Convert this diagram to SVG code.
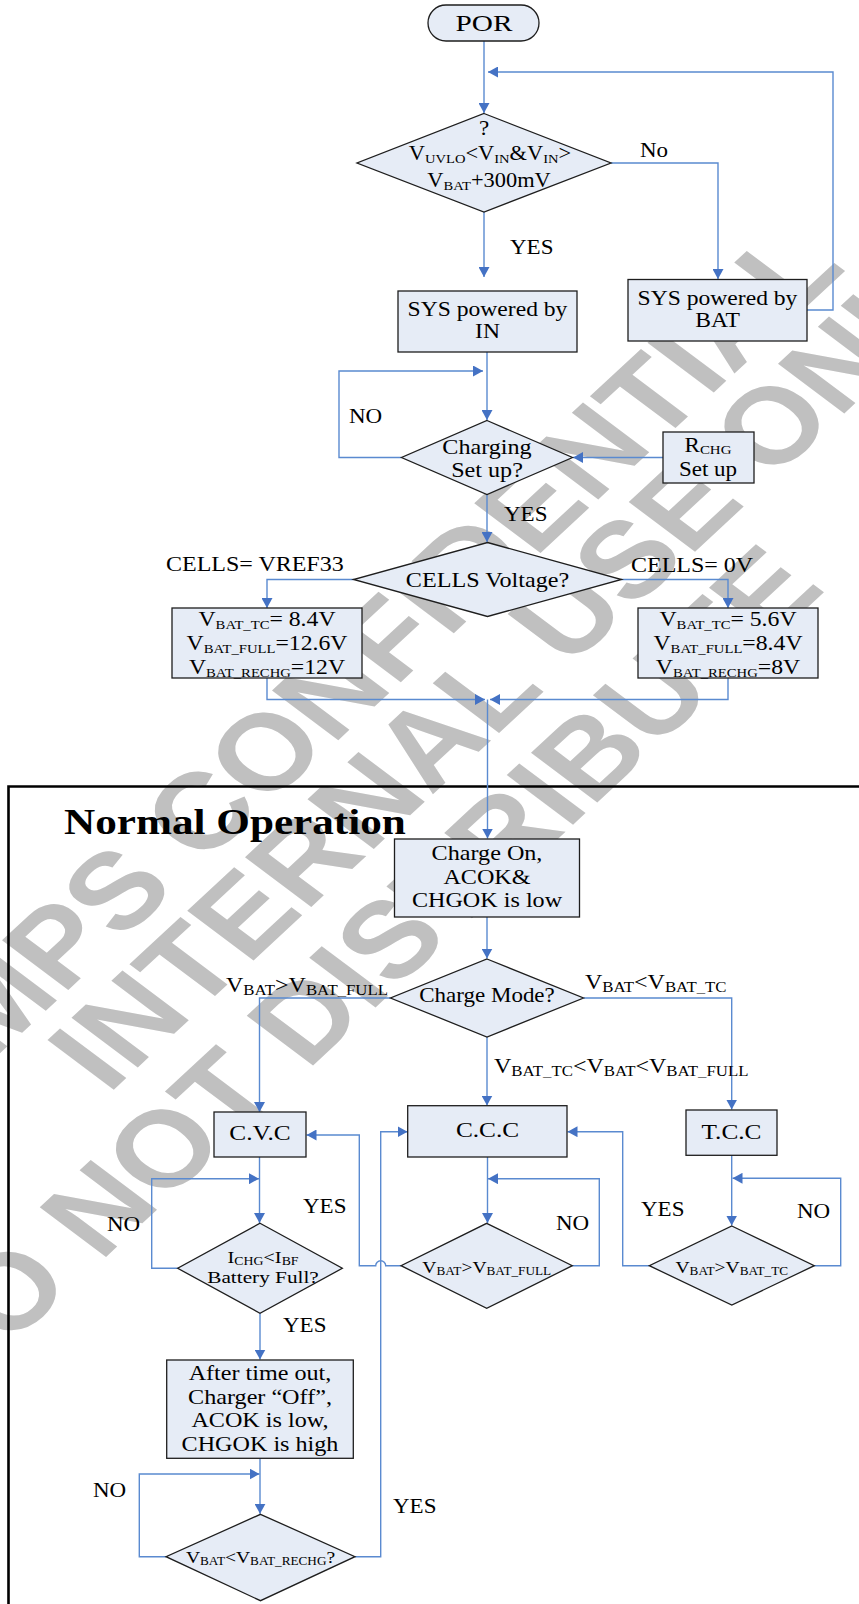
<svg xmlns="http://www.w3.org/2000/svg" width="859" height="1604" viewBox="0 0 859 1604">
<style>
text{font-family:"Liberation Serif","Times New Roman",serif;font-size:20px;fill:#000;text-anchor:middle}
.s{text-anchor:start}
.b{font-size:13px}
.sm{font-size:17px}
.sm .b{font-size:11.5px}
.wm{font-family:"Liberation Sans",Arial,sans-serif;font-weight:bold;font-size:108px;fill:#C0C0C0;text-anchor:start}
.n{fill:#E6ECF6;stroke:#1E1E1E;stroke-width:1.3}
.c{fill:none;stroke:#5A8AD0;stroke-width:1.4;marker-end:url(#a)}
.f{fill:none;stroke:#000;stroke-width:2.6}
</style>
<defs>
<marker id="a" markerWidth="10" markerHeight="11" refX="10" refY="5.5" orient="auto" markerUnits="userSpaceOnUse"><path d="M0,0 L10,5.5 L0,11 z" fill="#4472C4"/></marker>
</defs>
<rect width="859" height="1604" fill="#fff"/>
<g id="watermark">
<text class="wm" transform="scale(1.2 1) translate(-8 1062) rotate(-48)">MPS CONFIDENTIAL</text>
<text class="wm" transform="scale(1.2 1) translate(90 1095) rotate(-48)">INTERNAL USE ONLY</text>
<text class="wm" transform="scale(1.2 1) translate(-45 1405) rotate(-48)">DO NOT DISTRIBUTE</text>
</g>
<path id="frame" class="f" d="M8.5,1610 V786.5 H870"/>
<g id="connectors">
<path class="c" d="M484,41 V113"/>
<path class="c" d="M807,310 H833 V72 H488"/>
<path class="c" d="M611,163 H718 V279"/>
<path class="c" d="M484,212 V277"/>
<path class="c" d="M487,352 V420"/>
<path class="c" d="M401.5,457.5 H339 V371 H483"/>
<path class="c" d="M663,457.5 H573"/>
<path class="c" d="M487,494.5 V542"/>
<path class="c" d="M353.5,579.5 H267 V608"/>
<path class="c" d="M621.5,579.5 H728 V608"/>
<path class="c" d="M267,678 V699.5 H485"/>
<path class="c" d="M728,678 V699.5 H490"/>
<path class="c" d="M487.5,699.5 V838.5"/>
<path class="c" d="M487,917 V958.5"/>
<path class="c" d="M390.5,998 H259.5 V1112"/>
<path class="c" d="M487,1037 V1105.5"/>
<path class="c" d="M583.5,998 H731.7 V1109.5"/>
<path class="c" d="M259.5,1157 V1223"/>
<path class="c" d="M177.7,1268.3 H151.7 V1178.7 H259"/>
<path class="c" d="M260,1313.3 V1359.5"/>
<path class="c" d="M260,1458.3 V1513.8"/>
<path class="c" d="M166,1556.7 H139.3 V1474 H259.5"/>
<path class="c" d="M355,1556.7 H380.7 V1131.7 H407.5"/>
<path class="c" d="M487.5,1157 V1223"/>
<path class="c" d="M572.3,1265.7 H599.3 V1178.7 H488"/>
<path class="c" d="M401,1265.7 H385.7 A5,5 0 0 0 375.7,1265.7 H359.3 V1135 H306.5"/>
<path class="c" d="M731.7,1155 V1225.5"/>
<path class="c" d="M814.3,1265.7 H840.7 V1178.3 H732.5"/>
<path class="c" d="M649.3,1265.7 H622.7 V1131.7 H567.5"/>
</g>
<g id="por"><rect class="n" x="428" y="5" width="111" height="36" rx="18"/><text transform="translate(484 31) scale(1.22 1)" style="font-size:24px">POR</text></g>
<g id="d-vin">
<polygon class="n" points="484,113.5 611,163 484,212 357,163"/>
<text transform="translate(484 135) scale(1.15 1)">?</text>
<text transform="translate(490 160) scale(1.12 1)">V<tspan class="b" dy="3">UVLO</tspan><tspan dy="-3">&lt;V</tspan><tspan class="b" dy="3">IN</tspan><tspan dy="-3">&amp;V</tspan><tspan class="b" dy="3">IN</tspan><tspan dy="-3">&gt;</tspan></text>
<text transform="translate(489 187) scale(1.12 1)">V<tspan class="b" dy="3">BAT</tspan><tspan dy="-3">+300mV</tspan></text>
</g>
<g id="sys-bat"><rect class="n" x="628" y="279.5" width="179" height="61.5"/>
<text transform="translate(717.5 305) scale(1.18 1)">SYS powered by</text>
<text transform="translate(717.5 327) scale(1.18 1)">BAT</text></g>
<g id="sys-in"><rect class="n" x="398" y="291" width="179" height="61"/>
<text transform="translate(487.5 316) scale(1.18 1)">SYS powered by</text>
<text transform="translate(487.5 338) scale(1.18 1)">IN</text></g>
<g id="d-chg">
<polygon class="n" points="487,420.5 572.5,457.5 487,494.5 401.5,457.5"/>
<text transform="translate(487 454) scale(1.15 1)" style="font-size:21px">Charging</text>
<text transform="translate(487 477) scale(1.15 1)" style="font-size:21px">Set up?</text>
</g>
<g id="rchg"><rect class="n" x="663" y="432" width="91" height="51"/>
<text transform="translate(708 452) scale(1.15 1)">R<tspan class="b" dy="2">CHG</tspan></text>
<text transform="translate(708 476) scale(1.15 1)">Set up</text></g>
<g id="d-cells">
<polygon class="n" points="487.5,542.5 621.5,579.5 487.5,616.5 353.5,579.5"/>
<text transform="translate(487.5 587) scale(1.15 1)" style="font-size:21px">CELLS Voltage?</text>
</g>
<g id="cells-3"><rect class="n" x="172" y="608" width="190" height="70"/>
<text transform="translate(267 626) scale(1.13 1)" style="font-size:21px">V<tspan class="b" dy="3">BAT_TC</tspan><tspan dy="-3">= 8.4V</tspan></text>
<text transform="translate(267 650) scale(1.13 1)" style="font-size:21px">V<tspan class="b" dy="3">BAT_FULL</tspan><tspan dy="-3">=12.6V</tspan></text>
<text transform="translate(267 674) scale(1.13 1)" style="font-size:21px">V<tspan class="b" dy="3">BAT_RECHG</tspan><tspan dy="-3">=12V</tspan></text></g>
<g id="cells-2"><rect class="n" x="638" y="608" width="180" height="70"/>
<text transform="translate(728 626) scale(1.13 1)" style="font-size:21px">V<tspan class="b" dy="3">BAT_TC</tspan><tspan dy="-3">= 5.6V</tspan></text>
<text transform="translate(728 650) scale(1.13 1)" style="font-size:21px">V<tspan class="b" dy="3">BAT_FULL</tspan><tspan dy="-3">=8.4V</tspan></text>
<text transform="translate(728 674) scale(1.13 1)" style="font-size:21px">V<tspan class="b" dy="3">BAT_RECHG</tspan><tspan dy="-3">=8V</tspan></text></g>
<g id="charge-on"><rect class="n" x="394.5" y="839" width="185" height="78"/>
<text transform="translate(487 860) scale(1.15 1)" style="font-size:21px">Charge On,</text>
<text transform="translate(487 884) scale(1.15 1)" style="font-size:21px">ACOK&amp;</text>
<text transform="translate(487 907) scale(1.15 1)" style="font-size:21px">CHGOK is low</text></g>
<g id="d-mode">
<polygon class="n" points="487,959 583.5,998 487,1037 390.5,998"/>
<text transform="translate(487 1002) scale(1.15 1)">Charge Mode?</text>
</g>
<g id="cvc"><rect class="n" x="214" y="1112" width="92" height="45"/>
<text transform="translate(260 1140) scale(1.15 1)" style="font-size:22px">C.V.C</text></g>
<g id="ccc"><rect class="n" x="407.7" y="1105.7" width="159.3" height="51.3"/>
<text transform="translate(487.5 1137) scale(1.15 1)" style="font-size:22px">C.C.C</text></g>
<g id="tcc"><rect class="n" x="686" y="1110" width="91" height="45.3"/>
<text transform="translate(731.5 1139) scale(1.15 1)" style="font-size:22px">T.C.C</text></g>
<g id="d-full">
<polygon class="n" points="260,1223.3 342.3,1268.3 260,1313.3 177.7,1268.3"/>
<text class="sm" transform="translate(263 1263) scale(1.2 1)">I<tspan class="b" dy="2">CHG</tspan><tspan dy="-2">&lt;I</tspan><tspan class="b" dy="2">BF</tspan></text>
<text class="sm" transform="translate(263 1283) scale(1.25 1)">Battery Full?</text>
</g>
<g id="d-ccc">
<polygon class="n" points="486.7,1223.3 572.3,1265.7 486.7,1308.3 401,1265.7"/>
<text class="sm" transform="translate(486.7 1273) scale(1.15 1)">V<tspan class="b" dy="2">BAT</tspan><tspan dy="-2">&gt;V</tspan><tspan class="b" dy="2">BAT_FULL</tspan></text>
</g>
<g id="d-tcc">
<polygon class="n" points="731.8,1226 814.3,1265.7 731.8,1305 649.3,1265.7"/>
<text class="sm" transform="translate(731.8 1273) scale(1.15 1)">V<tspan class="b" dy="2">BAT</tspan><tspan dy="-2">&gt;V</tspan><tspan class="b" dy="2">BAT_TC</tspan></text>
</g>
<g id="off"><rect class="n" x="166.7" y="1360" width="186.6" height="98.3"/>
<text transform="translate(260 1380) scale(1.15 1)" style="font-size:21px">After time out,</text>
<text transform="translate(260 1404) scale(1.15 1)" style="font-size:21px">Charger “Off”,</text>
<text transform="translate(260 1427) scale(1.15 1)" style="font-size:21px">ACOK is low,</text>
<text transform="translate(260 1451) scale(1.15 1)" style="font-size:21px">CHGOK is high</text></g>
<g id="d-rechg">
<polygon class="n" points="260.5,1514.3 355,1556.7 260.5,1600.7 166,1556.7"/>
<text class="sm" transform="translate(260.5 1563) scale(1.15 1)">V<tspan class="b" dy="2">BAT</tspan><tspan dy="-2">&lt;V</tspan><tspan class="b" dy="2">BAT_RECHG</tspan><tspan dy="-2">?</tspan></text>
</g>
<g id="labels">
<text class="s" transform="translate(640 157) scale(1.15 1)">No</text>
<text class="s" transform="translate(510 254) scale(1.15 1)">YES</text>
<text class="s" transform="translate(349 423) scale(1.15 1)">NO</text>
<text class="s" transform="translate(504 521) scale(1.15 1)">YES</text>
<text class="s" transform="translate(166 571) scale(1.2 1)">CELLS= VREF33</text>
<text class="s" transform="translate(631 572) scale(1.2 1)">CELLS= 0V</text>
<text class="s" transform="translate(64 834) scale(1.2 1)" style="font-size:36px;font-weight:bold">Normal Operation</text>
<text class="s" transform="translate(226 992) scale(1.2 1)">V<tspan class="b" dy="3" style="font-size:14px">BAT</tspan><tspan dy="-3">&gt;V</tspan><tspan class="b" dy="3" style="font-size:14px">BAT_FULL</tspan></text>
<text class="s" transform="translate(585 989) scale(1.2 1)">V<tspan class="b" dy="3" style="font-size:14px">BAT</tspan><tspan dy="-3">&lt;V</tspan><tspan class="b" dy="3" style="font-size:14px">BAT_TC</tspan></text>
<text class="s" transform="translate(494 1073) scale(1.2 1)">V<tspan class="b" dy="3" style="font-size:14px">BAT_TC</tspan><tspan dy="-3">&lt;V</tspan><tspan class="b" dy="3" style="font-size:14px">BAT</tspan><tspan dy="-3">&lt;V</tspan><tspan class="b" dy="3" style="font-size:14px">BAT_FULL</tspan></text>
<text class="s" transform="translate(303 1213) scale(1.15 1)">YES</text>
<text class="s" transform="translate(107 1231) scale(1.15 1)">NO</text>
<text class="s" transform="translate(556 1230) scale(1.15 1)">NO</text>
<text class="s" transform="translate(641 1216) scale(1.15 1)">YES</text>
<text class="s" transform="translate(797 1218) scale(1.15 1)">NO</text>
<text class="s" transform="translate(283 1332) scale(1.15 1)">YES</text>
<text class="s" transform="translate(93 1497) scale(1.15 1)">NO</text>
<text class="s" transform="translate(393 1513) scale(1.15 1)">YES</text>
</g>
</svg>
